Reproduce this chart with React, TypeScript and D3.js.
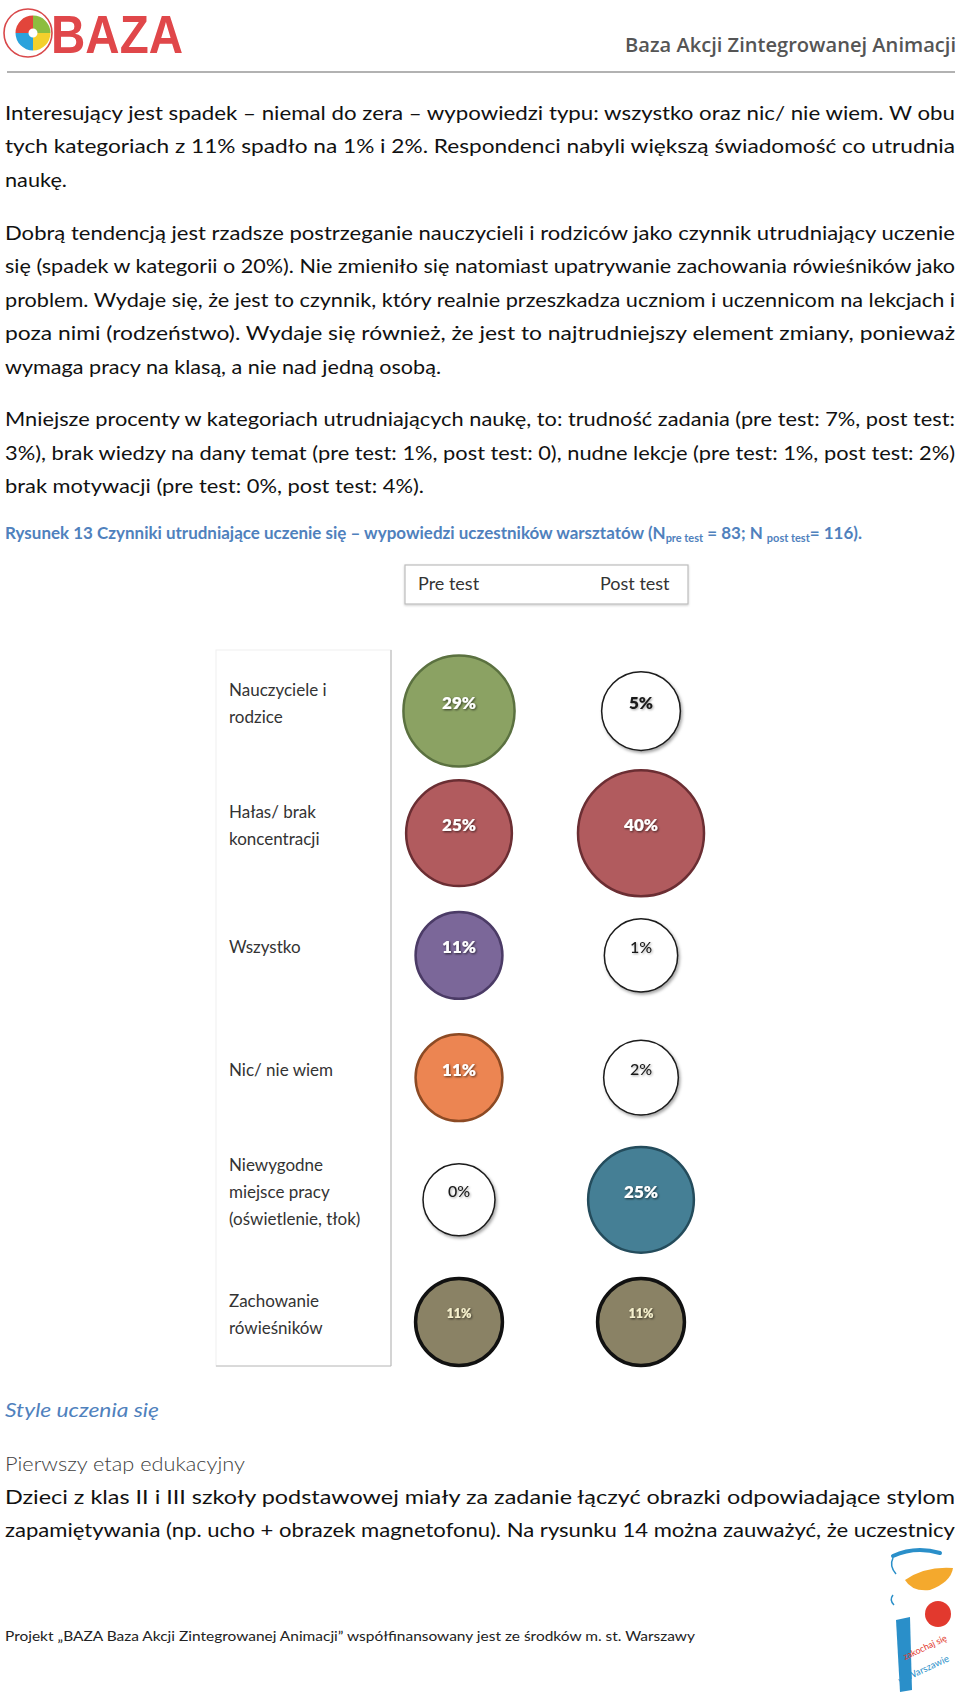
import React from "react";
import * as d3 from "d3";

// ---------- chart data ----------
const categories = [
  "Nauczyciele i rodzice",
  "Hałas/ brak koncentracji",
  "Wszystko",
  "Nic/ nie wiem",
  "Niewygodne miejsce pracy (oświetlenie, tłok)",
  "Zachowanie rówieśników",
];
const categoryLines = [
  ["Nauczyciele i", "rodzice"],
  ["Hałas/ brak", "koncentracji"],
  ["Wszystko"],
  ["Nic/ nie wiem"],
  ["Niewygodne", "miejsce pracy", "(oświetlenie, tłok)"],
  ["Zachowanie", "rówieśników"],
];
const seriesNames = ["Pre test", "Post test"];
const preTest = [29, 25, 11, 11, 0, 11];
const postTest = [5, 40, 1, 2, 25, 11];

// ---------- styles ----------
const palette = ["#8ba263", "#b15b5e", "#7b6799", "#ec8552", "#457f95", "#8a8265"];
const strokePalette = ["#5b7140", "#6b2e33", "#4b3b66", "#8c4a24", "#244c5c", "#111111"];
const strokeWidths = [2.5, 2.5, 2.5, 2.5, 2.5, 3.5];

// ---------- page text ----------
const para1 = [
  "Interesujący jest spadek – niemal do zera – wypowiedzi typu: wszystko oraz nic/ nie wiem. W obu",
  "tych kategoriach z 11% spadło na 1% i 2%. Respondenci nabyli większą świadomość co utrudnia",
  "naukę.",
];
const para2 = [
  "Dobrą tendencją jest rzadsze postrzeganie nauczycieli i rodziców jako czynnik utrudniający uczenie",
  "się (spadek w kategorii o 20%). Nie zmieniło się natomiast upatrywanie zachowania rówieśników jako",
  "problem. Wydaje się, że jest to czynnik, który realnie przeszkadza uczniom i uczennicom na lekcjach i",
  "poza nimi (rodzeństwo). Wydaje się również, że jest to najtrudniejszy element zmiany, ponieważ",
  "wymaga pracy na klasą, a nie nad jedną osobą.",
];
const para3 = [
  "Mniejsze procenty w kategoriach utrudniających naukę, to: trudność zadania (pre test: 7%, post test:",
  "3%),  brak wiedzy na dany temat (pre test: 1%, post test: 0), nudne lekcje (pre test: 1%, post test: 2%)",
  "brak motywacji (pre test: 0%, post test: 4%).",
];
const para4 = [
  "Dzieci z klas II i III szkoły podstawowej miały za zadanie łączyć obrazki odpowiadające stylom",
  "zapamiętywania (np. ucho + obrazek magnetofonu). Na rysunku 14 można zauważyć, że uczestnicy",
];

const BODY_FONT = "Lato, 'Open Sans', sans-serif";
const FULL_W = 950;

function Para({ lines, top, lastWidth, justifyLast = false }: { lines: string[]; top: number; lastWidth?: number; justifyLast?: boolean }) {
  const lh = 33.6;
  return (
    <g fontFamily={BODY_FONT} fontSize={20} fill="#111">
      {lines.map((l, i) => {
        const isLast = i === lines.length - 1;
        const w = isLast && !justifyLast ? lastWidth : FULL_W;
        return (
          <text key={i} x={5} y={top + i * lh + 6.5} textLength={w} lengthAdjust="spacingAndGlyphs">
            {l}
          </text>
        );
      })}
    </g>
  );
}

export default function App() {
  const x = d3.scalePoint<string>().domain(seriesNames).range([459, 641]);
  const y = d3.scalePoint<string>().domain(categories).range([711, 1322]);
  const r = d3.scaleLinear().domain([0, 40]).range([36, 63]);

  const cells = categories.flatMap((c, i) =>
    [preTest[i], postTest[i]].map((v, j) => ({
      cat: c,
      ci: i,
      series: seriesNames[j],
      value: v,
      plain: v <= 5,
    }))
  );

  return (
    <svg width={960} height={1695} style={{ position: "absolute", left: 0, top: 0, background: "#fff" }}>
      <defs>
        <filter id="shadow" x="-30%" y="-30%" width="160%" height="160%">
          <feDropShadow dx="1.5" dy="2" stdDeviation="1.6" floodColor="#000" floodOpacity="0.35" />
        </filter>
        <filter id="tshadow" x="-30%" y="-30%" width="160%" height="160%">
          <feDropShadow dx="1" dy="1" stdDeviation="0.9" floodColor="#000" floodOpacity="0.65" />
        </filter>
        <filter id="boxshadow" x="-10%" y="-30%" width="120%" height="160%">
          <feDropShadow dx="0" dy="1" stdDeviation="1.2" floodColor="#000" floodOpacity="0.2" />
        </filter>
      </defs>
      <rect width={960} height={1695} fill="#fff" />

      {/* ---- header ---- */}
      <g>
        <circle cx={28} cy={33} r={24} fill="none" stroke="#d9484a" strokeWidth={1.6} />
        {[
          ["#e2453b", -Math.PI, -Math.PI / 2],
          ["#8dbd3f", -Math.PI / 2, 0],
          ["#f4d02c", 0, Math.PI / 2],
          ["#2aa2dc", Math.PI / 2, Math.PI],
        ].map(([col, a0, a1], k) => (
          <path
            key={k}
            transform="translate(33,33)"
            d={d3.arc()({ innerRadius: 4.5, outerRadius: 17.5, startAngle: (a0 as number) + Math.PI / 2, endAngle: (a1 as number) + Math.PI / 2 }) || ""}
            fill={col as string}
          />
        ))}
        <text x={51} y={53} fontFamily="'Liberation Sans', Arial, sans-serif" fontWeight={700} fontSize={54} fill="#e0474a" textLength={132} lengthAdjust="spacingAndGlyphs">
          BAZA
        </text>
        <text x={956} y={52} textAnchor="end" fontFamily="'Open Sans', sans-serif" fontWeight={600} fontSize={19.5} fill="#555" textLength={331} lengthAdjust="spacingAndGlyphs">
          Baza Akcji Zintegrowanej Animacji
        </text>
        <line x1={7} x2={955} y1={72} y2={72} stroke="#999" strokeWidth={1.5} />
      </g>

      {/* ---- body text ---- */}
      <Para lines={para1} top={113} lastWidth={62} />
      <Para lines={para2} top={233} lastWidth={436} />
      <Para lines={para3} top={419.5} lastWidth={419} />

      {/* ---- caption ---- */}
      <text x={5} y={539} fontFamily={BODY_FONT} fontWeight={700} fontSize={17} fill="#4f81bd" textLength={857} lengthAdjust="spacingAndGlyphs">
        Rysunek 13 Czynniki utrudniające uczenie się – wypowiedzi uczestników warsztatów (N
        <tspan fontSize={11} dy={3}>pre test</tspan>
        <tspan dy={-3}> = 83; N </tspan>
        <tspan fontSize={11} dy={3}>post test</tspan>
        <tspan dy={-3}>= 116).</tspan>
      </text>

      {/* ---- legend ---- */}
      <rect x={405} y={565} width={283} height={39} fill="#fff" stroke="#bdbdbd" strokeWidth={1.2} filter="url(#boxshadow)" />
      {seriesNames.map((s) => (
        <text key={s} x={(x(s) as number) - 41} y={590} fontFamily={BODY_FONT} fontSize={18} fill="#333">
          {s}
        </text>
      ))}

      {/* ---- label panel ---- */}
      <rect x={216} y={650} width={175} height={716} fill="none" stroke="#f0f0f0" strokeWidth={1} />
      <line x1={391} x2={391} y1={650} y2={1366} stroke="#bcbcbc" strokeWidth={1.2} />
      <line x1={216} x2={391} y1={1366} y2={1366} stroke="#bcbcbc" strokeWidth={1.2} />
      {categories.map((c, i) => {
        const lines = categoryLines[i];
        const lh = 27;
        const cy = (y(c) as number) - 8;
        const first = cy - ((lines.length - 1) * lh) / 2;
        return (
          <text key={c} fontFamily={BODY_FONT} fontSize={17} fill="#333">
            {lines.map((l, k) => (
              <tspan key={k} x={229} y={first + k * lh + 6}>
                {l}
              </tspan>
            ))}
          </text>
        );
      })}

      {/* ---- bubbles ---- */}
      {cells.map((d) => {
        const cx = x(d.series) as number;
        const cy = y(d.cat) as number;
        const rad = r(d.value);
        const olive = d.ci === 5;
        return (
          <g key={d.cat + d.series}>
            <circle
              cx={cx}
              cy={cy}
              r={rad}
              fill={d.plain ? "#fff" : palette[d.ci]}
              stroke={d.plain ? "#1a1a1a" : strokePalette[d.ci]}
              strokeWidth={d.plain ? 1.5 : strokeWidths[d.ci]}
              filter={d.plain ? "url(#shadow)" : undefined}
            />
            <text
              x={cx}
              y={cy - 8}
              dy="0.35em"
              textAnchor="middle"
              fontFamily={BODY_FONT}
              fontWeight={d.plain ? (d.value === 5 ? 800 : 500) : 800}
              fontSize={olive ? 12.5 : d.plain && d.value !== 5 ? 16 : 17}
              fill={d.plain ? "#1a1a1a" : olive ? "#f4efcc" : "#fff"}
              filter={d.plain ? undefined : "url(#tshadow)"}
              style={d.plain ? { filter: "drop-shadow(1px 1px 1px rgba(0,0,0,0.35))" } : undefined}
            >
              {`${d.value}%`}
            </text>
          </g>
        );
      })}

      {/* ---- section heading ---- */}
      <text x={5} y={1417} fontFamily={BODY_FONT} fontStyle="italic" fontSize={20} fill="#4f81bd" textLength={154} lengthAdjust="spacingAndGlyphs">
        Style uczenia się
      </text>
      <text x={5} y={1471} fontFamily={BODY_FONT} fontWeight={300} fontSize={20} fill="#404040" textLength={240} lengthAdjust="spacingAndGlyphs">
        Pierwszy etap edukacyjny
      </text>
      <Para lines={para4} top={1497} justifyLast={true} />

      {/* ---- footer ---- */}
      <text x={5} y={1641} fontFamily={BODY_FONT} fontSize={14} fill="#222" textLength={690} lengthAdjust="spacingAndGlyphs">
        Projekt „BAZA Baza Akcji Zintegrowanej Animacji” współfinansowany jest ze środków m. st. Warszawy
      </text>
      <g>
        <path d="M893,1556 Q915,1546 940,1553" fill="none" stroke="#2a8fc9" strokeWidth={4} strokeLinecap="round" />
        <path d="M893,1558 Q889,1566 896,1574" fill="none" stroke="#2a8fc9" strokeWidth={1.5} />
        <path d="M905,1580 Q925,1566 953,1568 Q951,1582 930,1590 Q912,1592 905,1580 Z" fill="#f4a92d" />
        <circle cx={938} cy={1614} r={13} fill="#e2392e" />
        <path d="M893,1595 Q889,1600 894,1605" fill="none" stroke="#2a8fc9" strokeWidth={1.5} />
        <path d="M896,1620 L910,1617 L912,1690 L900,1692 Z" fill="#2a8fc9" />
        <text x={905} y={1660} fontFamily={BODY_FONT} fontSize={9} fill="#e2392e" transform="rotate(-25 905 1660)">
          zakochaj się
        </text>
        <text x={900} y={1684} fontFamily={BODY_FONT} fontSize={9.5} fill="#2a8fc9" transform="rotate(-25 900 1684)">
          w Warszawie
        </text>
      </g>
    </svg>
  );
}
